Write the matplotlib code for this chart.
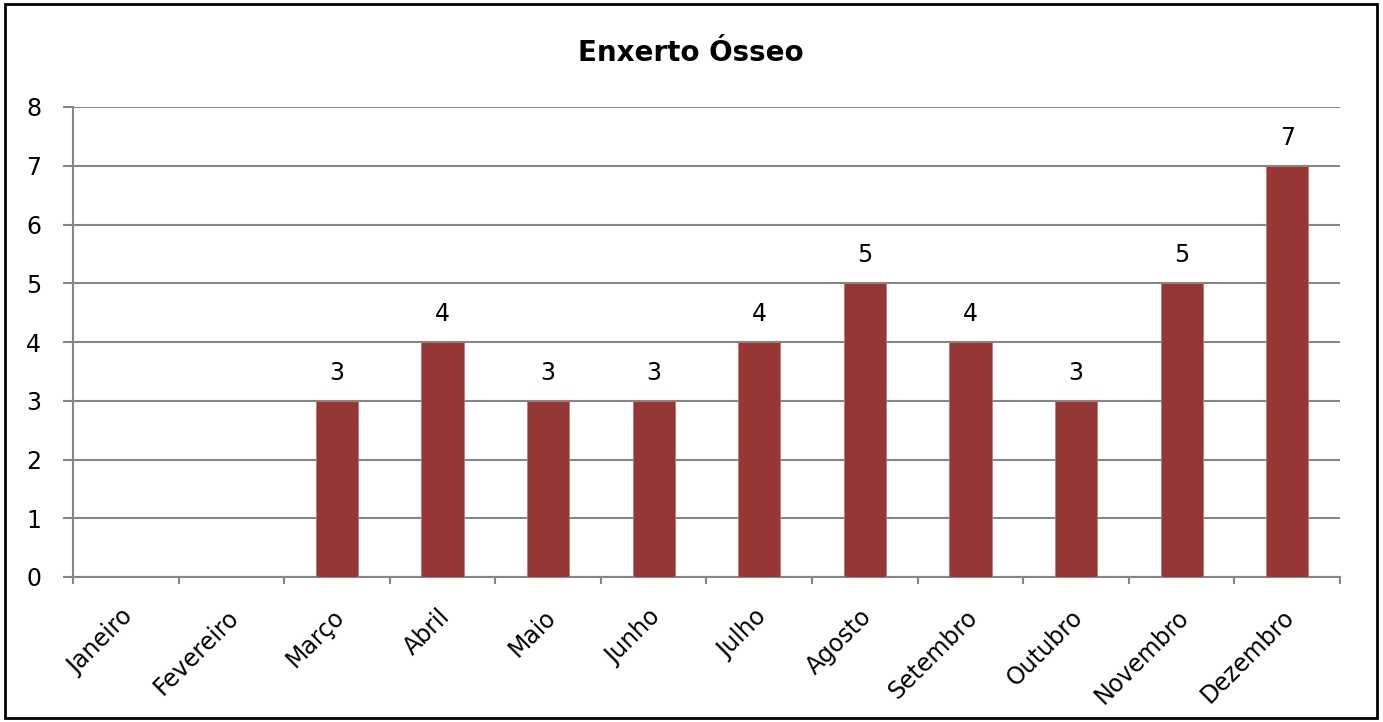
import matplotlib
matplotlib.use("Agg")
import matplotlib.pyplot as plt
from matplotlib.patches import Rectangle
import matplotlib.transforms as mtransforms
import numpy as np

months = ["Janeiro", "Fevereiro", "Março", "Abril", "Maio", "Junho", "Julho",
          "Agosto", "Setembro", "Outubro", "Novembro", "Dezembro"]
values = [0, 0, 3, 4, 3, 3, 4, 5, 4, 3, 5, 7]
yticks = [0, 1, 2, 3, 4, 5, 6, 7, 8]
title = "Enxerto Ósseo"

plt.rcParams['font.family'] = ['DejaVu Sans']

fig = plt.figure(figsize=(13.83, 7.22), dpi=100)
ax = fig.add_axes([73/1383, 1-577/722, (1340-73)/1383, (577-107)/722])

x = np.arange(len(months))
ax.bar(x, values, width=0.4, color="#953735", edgecolor="#c07877", linewidth=0.6, zorder=3)
for xi, v in zip(x, values):
    if v > 0:
        ax.annotate(str(v), (xi, v), xytext=(0, 20), textcoords="offset points",
                    ha="center", va="center", fontsize=17, color="black")

ax.set_xlim(-0.5, len(months) - 0.5)
ax.set_ylim(0, 8)
ax.set_yticks(yticks)
ax.set_yticklabels([str(t) for t in yticks], fontsize=17)
ax.yaxis.grid(True, color="#868686", linewidth=1.5, zorder=0)
ax.set_axisbelow(True)

ax.set_xticks(x)
ax.set_xticklabels(months, rotation=45, ha="right", va="top", fontsize=17,
                   rotation_mode="anchor")
ax.tick_params(axis="x", which="major", length=0, pad=20)
shift = mtransforms.ScaledTranslation(-5/100, 0, fig.dpi_scale_trans)
for lbl in ax.get_xticklabels():
    lbl.set_transform(lbl.get_transform() + shift)
ax.set_xticks(np.arange(-0.5, len(months)), minor=True)
ax.tick_params(axis="x", which="minor", length=5, width=1.5, color="#868686", direction="out")
ax.tick_params(axis="y", length=7, width=1.5, color="#868686", direction="out", pad=16)

for s in ["top", "right"]:
    ax.spines[s].set_visible(False)
for s in ["left", "bottom"]:
    ax.spines[s].set_color("#868686")
    ax.spines[s].set_linewidth(1.5)

fig.text(691/1383, 1-61/722, title, ha="center", va="baseline", fontsize=20, fontweight="bold")

fig.patches.append(Rectangle((5/1383, 4/722), (1377-5)/1383, (718-4)/722,
                             transform=fig.transFigure, fill=False, edgecolor="black", linewidth=2))

fig.savefig("out.png", dpi=100)
